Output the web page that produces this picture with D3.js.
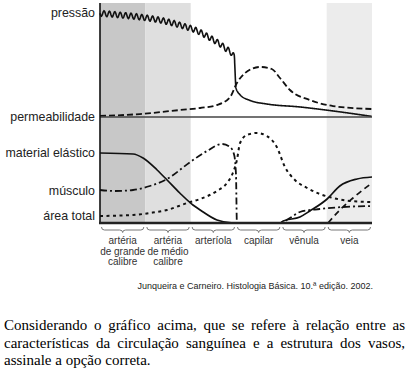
<!DOCTYPE html>
<html>
<head>
<meta charset="utf-8">
<script src="https://cdn.jsdelivr.net/npm/d3@7"></script>
<style>
  body { margin: 0; background: #fff; }
  svg { display: block; }
</style>
</head>
<body>
<div id="chart"></div>
<script>
// categorias (eixo x)
const categorias = [
  ["artéria", "de grande", "calibre"],
  ["artéria", "de médio", "calibre"],
  ["arteríola"],
  ["capilar"],
  ["vênula"],
  ["veia"]
];
// faixas cinzas: [inicio, fim, cor]
const faixas = [[0, 1, "#c8c8c8"], [1, 2, "#dfdfdf"], [5, 6, "#ececec"]];

// painel de cima
const pressao = [[0, 91], [0.44, 89.5], [0.88, 87.7], [1.32, 85], [1.76, 80.7], [2.1, 76.3],
  [2.43, 69.3], [2.76, 60.5], [2.96, 52.6], [3.0, 25.4], [3.09, 19.5], [3.31, 14.5],
  [3.68, 11.4], [4.41, 8.8], [5.14, 5.3], [6, 0.5]];
const permeabilidade = [[0, 0.9], [0.88, 2.6], [1.76, 6.1], [2.21, 7.9], [2.58, 10.5], [2.87, 17.5],
  [3.02, 29.8], [3.2, 38.6], [3.53, 43.9], [3.79, 42.1], [3.97, 34.2], [4.19, 23.7],
  [4.63, 14.9], [5.14, 9.6], [6, 7.0]];

// painel de baixo
const materialElastico = [[0, 70], [0.73, 69], [0.95, 65], [1.26, 53], [1.48, 43], [1.76, 30],
  [2.05, 18], [2.21, 13], [2.58, 3], [2.94, 0], [3.97, 0], [4.04, 2], [4.41, 6], [4.63, 12],
  [5.01, 24], [5.29, 37], [5.67, 44], [6, 46]];
const musculo = [[0, 33], [0.33, 32], [0.73, 33], [1.1, 37], [1.48, 44], [1.99, 61], [2.36, 72],
  [2.69, 79], [2.87, 76], [2.96, 68], [3.0, 48], [3.02, 0], [3.97, 0], [4.19, 5], [4.41, 11],
  [4.85, 14], [5.36, 16], [6, 17]];
const areaTotal = [[0, 7], [0.73, 8], [1.1, 10], [1.48, 13], [1.92, 20], [2.21, 24], [2.58, 32],
  [2.8, 40], [2.93, 50], [3.02, 63], [3.09, 80], [3.24, 88], [3.46, 90], [3.68, 87], [3.9, 76],
  [4.08, 56], [4.3, 43], [4.57, 35], [4.85, 29], [5.14, 25], [5.51, 22], [6, 21]];
const veiaTracejada = [[5.03, 0], [5.29, 13], [5.58, 25], [6, 40]];

const rotulosCima = [["pressão", 91], ["permeabilidade", 0]];
const rotulosBaixo = [["material elástico", 70], ["músculo", 32], ["área total", 7]];

const citacao = "Junqueira e Carneiro. Histologia Básica. 10.ª edição. 2002.";
const paragrafo = [
  "Considerando o gráfico acima, que se refere à relação entre as",
  "características da circulação sanguínea e a estrutura dos vasos,",
  "assinale a opção correta."
];

const sans = '"Liberation Sans", Arial, sans-serif';
const serif = '"Liberation Serif", "Times New Roman", serif';

const width = 410, height = 376;
const svg = d3.select("#chart").append("svg")
  .attr("width", width).attr("height", height);

const x = d3.scaleLinear().domain([0, 6]).range([100, 372]);
const yTop = d3.scaleLinear().domain([0, 100]).range([117, 3]);
const yBot = d3.scaleLinear().domain([0, 100]).range([223, 123]);

// faixas
svg.selectAll(".faixa").data(faixas).enter().append("rect")
  .attr("x", d => x(d[0])).attr("width", d => x(d[1]) - x(d[0]))
  .attr("y", 3).attr("height", 220)
  .attr("fill", d => d[2]);

const linha = (ys) => d3.line().x(d => x(d[0])).y(d => ys(d[1])).curve(d3.curveMonotoneX);

// pressão com ondulação (pulso) até a arteríola
const tmp = svg.append("path").attr("d", linha(yTop)(pressao)).attr("fill", "none");
const node = tmp.node(), total = node.getTotalLength();
const pts = [];
for (let l = 0; l <= total; l += 0.5) {
  const p = node.getPointAtLength(l);
  let yy = p.y;
  if (p.x < x(2.97)) yy += 2.8 * Math.sin((p.x - 100) / 5.4 * 2 * Math.PI);
  pts.push([p.x, yy]);
}
tmp.remove();
svg.append("path").attr("d", d3.line()(pts))
  .attr("fill", "none").attr("stroke", "#111").attr("stroke-width", 1.6);

svg.append("path").attr("d", linha(yTop)(permeabilidade))
  .attr("fill", "none").attr("stroke", "#111").attr("stroke-width", 1.8)
  .attr("stroke-dasharray", "6,3");

// linha separadora do painel de cima
svg.append("line").attr("x1", 100).attr("x2", 372).attr("y1", yTop(0)).attr("y2", yTop(0))
  .attr("stroke", "#444").attr("stroke-width", 1.6);

// painel de baixo
svg.append("path").attr("d", linha(yBot)(materialElastico))
  .attr("fill", "none").attr("stroke", "#111").attr("stroke-width", 1.7);
svg.append("path").attr("d", linha(yBot)(musculo))
  .attr("fill", "none").attr("stroke", "#111").attr("stroke-width", 1.8)
  .attr("stroke-dasharray", "7,3,2,3");
svg.append("path").attr("d", linha(yBot)(areaTotal))
  .attr("fill", "none").attr("stroke", "#111").attr("stroke-width", 2)
  .attr("stroke-dasharray", "3,3.5");
svg.append("path").attr("d", linha(yBot)(veiaTracejada))
  .attr("fill", "none").attr("stroke", "#111").attr("stroke-width", 1.7)
  .attr("stroke-dasharray", "6,4");

// eixos
svg.append("line").attr("x1", 100).attr("x2", 100).attr("y1", 3).attr("y2", 224)
  .attr("stroke", "#111").attr("stroke-width", 1.6);
svg.append("line").attr("x1", 99).attr("x2", 372).attr("y1", yBot(0)).attr("y2", yBot(0))
  .attr("stroke", "#222").attr("stroke-width", 2.6);

// rótulos do eixo y
const rot = svg.append("g").style("font-family", sans).style("font-size", "12.4px")
  .attr("fill", "#222").attr("text-anchor", "end");
rotulosCima.forEach(r => rot.append("text").attr("x", 95).attr("y", yTop(r[1]) + 4).text(r[0]));
rotulosBaixo.forEach(r => rot.append("text").attr("x", 95).attr("y", yBot(r[1]) + 4).text(r[0]));

// chaves sob cada categoria
categorias.forEach((c, i) => {
  const x0 = x(i) + 1.5, x1 = x(i + 1) - 1.5, m = (x0 + x1) / 2, yb = 230;
  svg.append("path")
    .attr("d", `M${x0},${yb - 3} Q${x0},${yb} ${x0 + 3},${yb} L${m - 3},${yb} Q${m},${yb} ${m},${yb + 2.5} Q${m},${yb} ${m + 3},${yb} L${x1 - 3},${yb} Q${x1},${yb} ${x1},${yb - 3}`)
    .attr("fill", "none").attr("stroke", "#777").attr("stroke-width", 1);
  const t = svg.append("text").style("font-family", sans).style("font-size", "10px")
    .attr("fill", "#333").attr("text-anchor", "middle");
  c.forEach((s, k) => t.append("tspan").attr("x", m).attr("y", 244 + k * 10.5).text(s));
});

// citação
svg.append("text").attr("x", 373).attr("y", 289).attr("text-anchor", "end")
  .style("font-family", sans).style("font-size", "9px").attr("fill", "#222").text(citacao);

// parágrafo justificado
const left = 4, right = 405;
paragrafo.forEach((linhaTxt, i) => {
  const t = svg.append("text").attr("y", 330 + i * 17.5)
    .style("font-family", serif).style("font-size", "15px")
    .attr("fill", "#000");
  const palavras = linhaTxt.split(" ");
  const spans = palavras.map(w => t.append("tspan").text(w));
  const larguras = spans.map(s => s.node().getComputedTextLength());
  const soma = d3.sum(larguras);
  const justificar = i < paragrafo.length - 1;
  const gap = justificar ? (right - left - soma) / (palavras.length - 1) : 3.75;
  let cx = left;
  spans.forEach((s, k) => { s.attr("x", cx); cx += larguras[k] + gap; });
});
</script>
</body>
</html>
